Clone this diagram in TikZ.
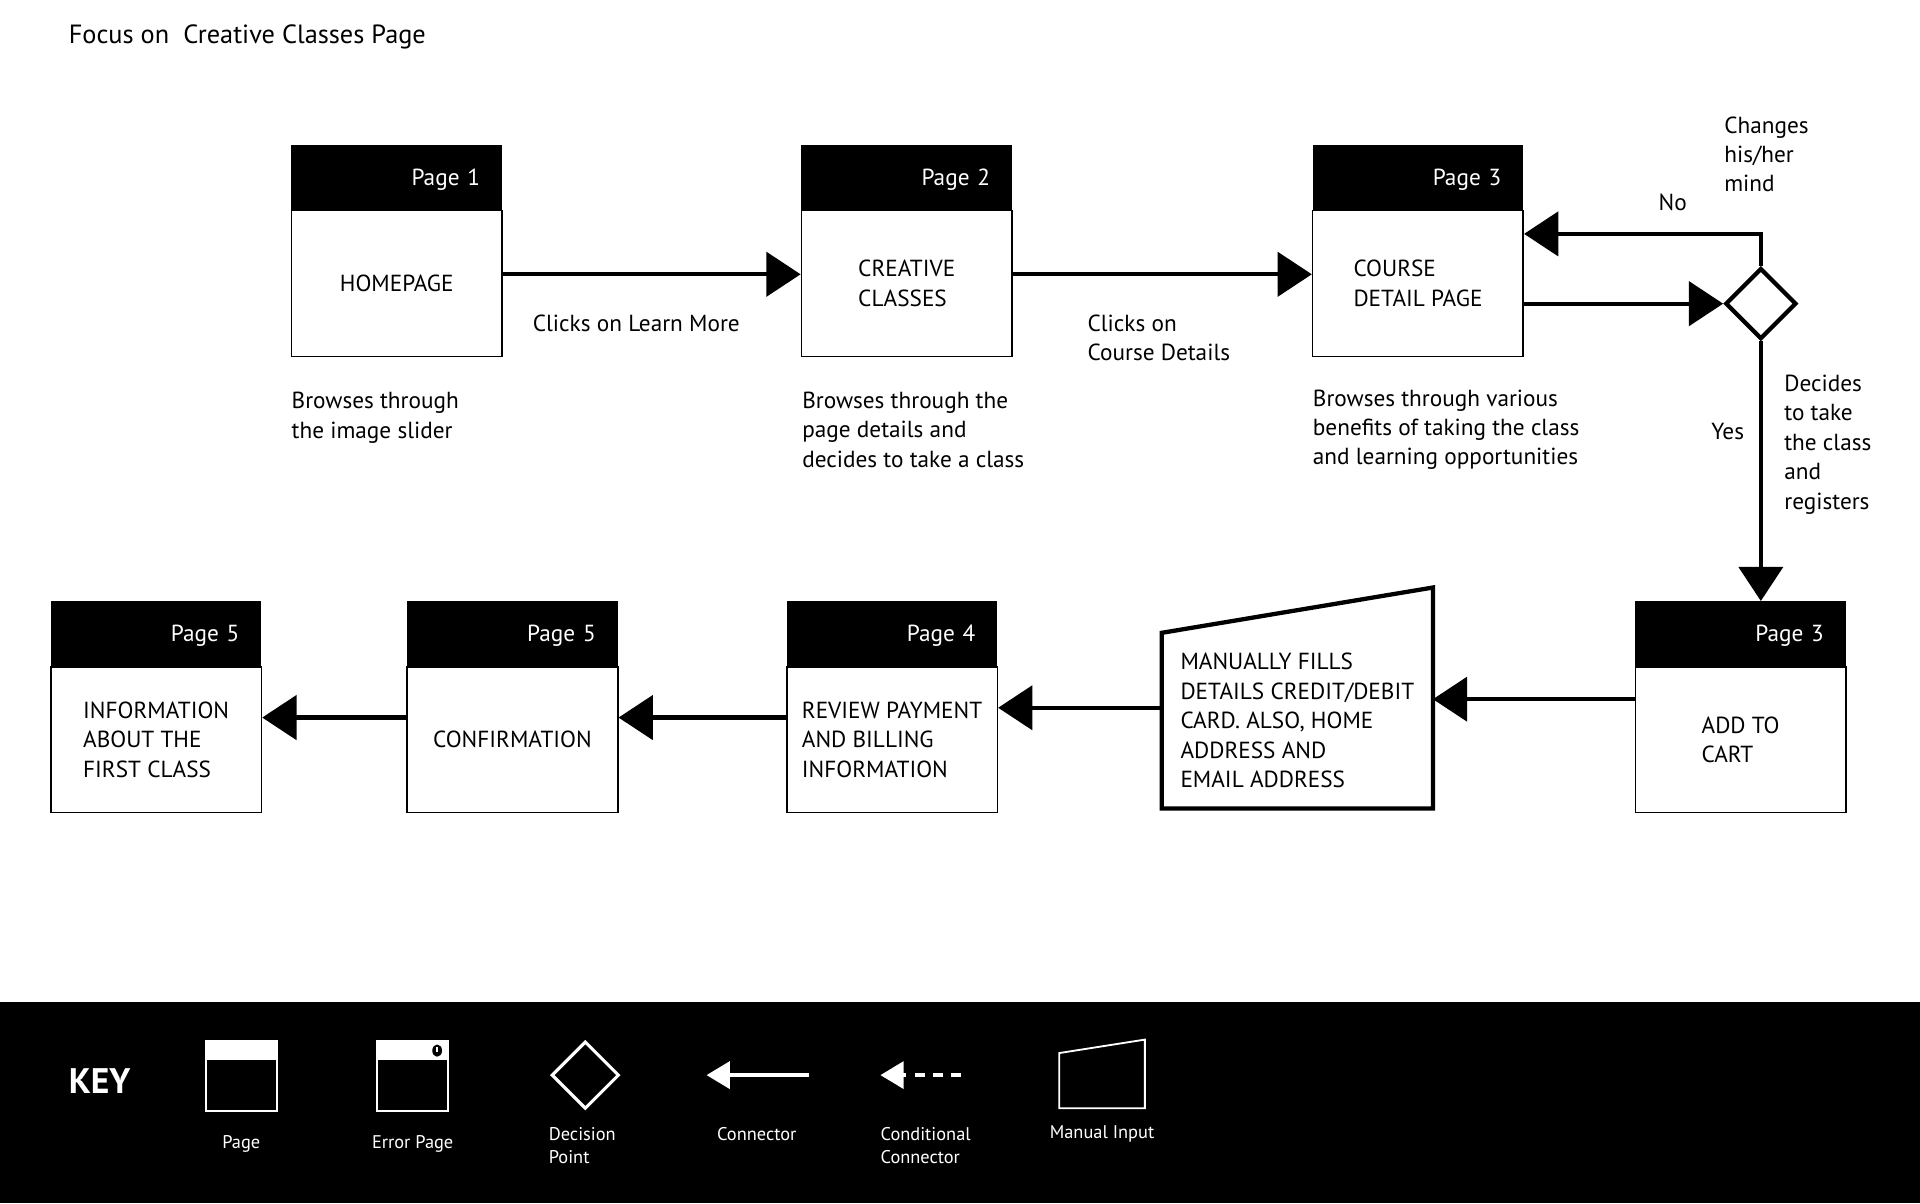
\documentclass[tikz,border=0pt]{standalone}
\usepackage{fontspec}
\setmainfont{PT Sans}
\usetikzlibrary{shapes.geometric, arrows.meta}

\begin{document}
\begin{tikzpicture}[x=1pt, y=-1pt]
  \tikzset{pagebox/.style={draw, line width=1.3pt,
      minimum width=172pt, minimum height=119pt,
      align=left, font=\fontsize{19}{24}\selectfont,
      label={[anchor=south, fill=black, text=white, minimum width=172pt,
        minimum height=53pt, inner xsep=18pt, text width=136pt, text depth=0pt,
        align=right, font=\fontsize{19}{24}\selectfont]north:#1}},
    flow/.style={line width=3.5pt, -{Triangle[length=28pt, width=36pt]}},
    note/.style={align=left, inner sep=0pt, font=\fontsize{19}{24}\selectfont},
    keytext/.style={text=white, align=left, inner sep=0pt, font=\fontsize{15}{19}\selectfont}
  }
  \fill[white] (0,0) rectangle (1568,982.45);
  \useasboundingbox (0,0) rectangle (1568,982.45);

  \node[note, anchor=west, font=\fontsize{21.5}{26}\selectfont] (title) at (56,30)
    {Focus on \ Creative Classes Page};

  % top row
  \node[pagebox=Page 1] (home) at (324,231.5) {HOMEPAGE};
  \node[pagebox=Page 2] (creative) at (740.5,231.5) {CREATIVE\\CLASSES};
  \node[pagebox=Page 3] (course) at (1158,231.5) {COURSE\\DETAIL PAGE};
  \node[draw, diamond, line width=3.5pt, minimum width=58pt, minimum height=58pt,
    inner sep=0pt] (decide) at (1438,248) {};

  \draw[flow] ([yshift=7.5pt]home.east) -- ([yshift=7.5pt]creative.west);
  \draw[flow] ([yshift=7.5pt]creative.east) -- ([yshift=7.5pt]course.west);
  \draw[flow] ([yshift=-16.5pt]course.east) -- (decide.west);
  \draw[flow] (decide.north) |- ([yshift=40.5pt]course.east);

  \node[note, anchor=west] (learn) at (435,264) {Clicks on Learn More};
  \node[note, anchor=west] (details) at (888,276) {Clicks on\\Course Details};
  \node[note] (no) at (1366,165) {No};
  \node[note, anchor=west] (mind) at (1408,126) {Changes\\his/her\\mind};
  \node[note] (yes) at (1411,352) {Yes};
  \node[note, anchor=west] (registers) at (1457,363) {Decides\\to take\\the class\\and\\registers};

  \node[note, anchor=west] at (238,341) {Browses through\\the image slider};
  \node[note, anchor=west] at (655,351) {Browses through the\\page details and\\decides to take a class};
  \node[note, anchor=west] at (1072,351) {Browses through various\\benefits of taking the class\\and learning opportunities};

  % bottom row
  \node[pagebox=Page 3] (cart) at (1421.5,604) {ADD TO\\CART};
  \coordinate (cart top) at ([yshift=53pt]cart.north);
  \node[minimum width=221pt, minimum height=143pt, align=left,
    font=\fontsize{19}{24}\selectfont] (manual) at (1059.5,588.5)
    {MANUALLY FILLS\\DETAILS CREDIT/DEBIT\\CARD. ALSO, HOME\\ADDRESS AND\\EMAIL ADDRESS};
  \draw[line width=3.5pt] (manual.south west) -- (manual.north west)
    -- ([yshift=37pt]manual.north east) -- (manual.south east) -- cycle;
  \node[pagebox=Page 4] (review) at (728.5,604) {REVIEW PAYMENT\\AND BILLING\\INFORMATION};
  \node[pagebox=Page 5] (confirm) at (418.5,604) {CONFIRMATION};
  \node[pagebox=Page 5] (info) at (127.5,604) {INFORMATION\\ABOUT THE\\FIRST CLASS};

  \draw[flow] (decide.south) -- (decide.south |- cart top);
  \draw[flow] ([yshift=33pt]cart.west) -- ([yshift=17.5pt]manual.east);
  \draw[flow] ([yshift=10.5pt]manual.west) -- ([yshift=26pt]review.east);
  \draw[flow] ([yshift=18pt]review.west) -- ([yshift=18pt]confirm.east);
  \draw[flow] ([yshift=18pt]confirm.west) -- ([yshift=18pt]info.east);

  % key
  \fill[black] (0,818) rectangle (1568,982.45);
  \node[text=white, anchor=west, inner sep=0pt, font=\bfseries\fontsize{29}{32}\selectfont] (key) at (56,883) {KEY};
  \draw[white, line width=1.5pt] (168,850) rectangle (226,907);
  \fill[white] (168,850) rectangle (226,866);
  \draw[white, line width=1.5pt] (308,850) rectangle (366,907);
  \fill[white] (308,850) rectangle (366,866);
  \fill[black] (357,858) ellipse [x radius=4pt, y radius=5pt];
  \draw[white, line width=1.2pt] (357,855) -- (357,859.5);
  \draw[white, line width=2.5pt] (478,851) -- (505,878) -- (478,905) -- (451,878) -- cycle;
  \draw[white, line width=3pt, -{Triangle[length=19pt, width=22pt]}] (661,878) -- (577,878);
  \draw[white, line width=3pt, dash pattern=on 8pt off 7pt,
    -{Triangle[length=19pt, width=22pt]}] (785,878) -- (719,878);
  \draw[white, line width=1.5pt] (865,860) -- (935,849) -- (935,905) -- (865,905) -- cycle;

  \node[keytext] at (197,934) {Page};
  \node[keytext] at (337,934) {Error Page};
  \node[keytext, anchor=west] at (448,935.5) {Decision\\Point};
  \node[keytext] at (618,926) {Connector};
  \node[keytext, anchor=west] at (719,935.5) {Conditional\\Connector};
  \node[keytext] at (900,926) {Manual Input};
\end{tikzpicture}
\end{document}
